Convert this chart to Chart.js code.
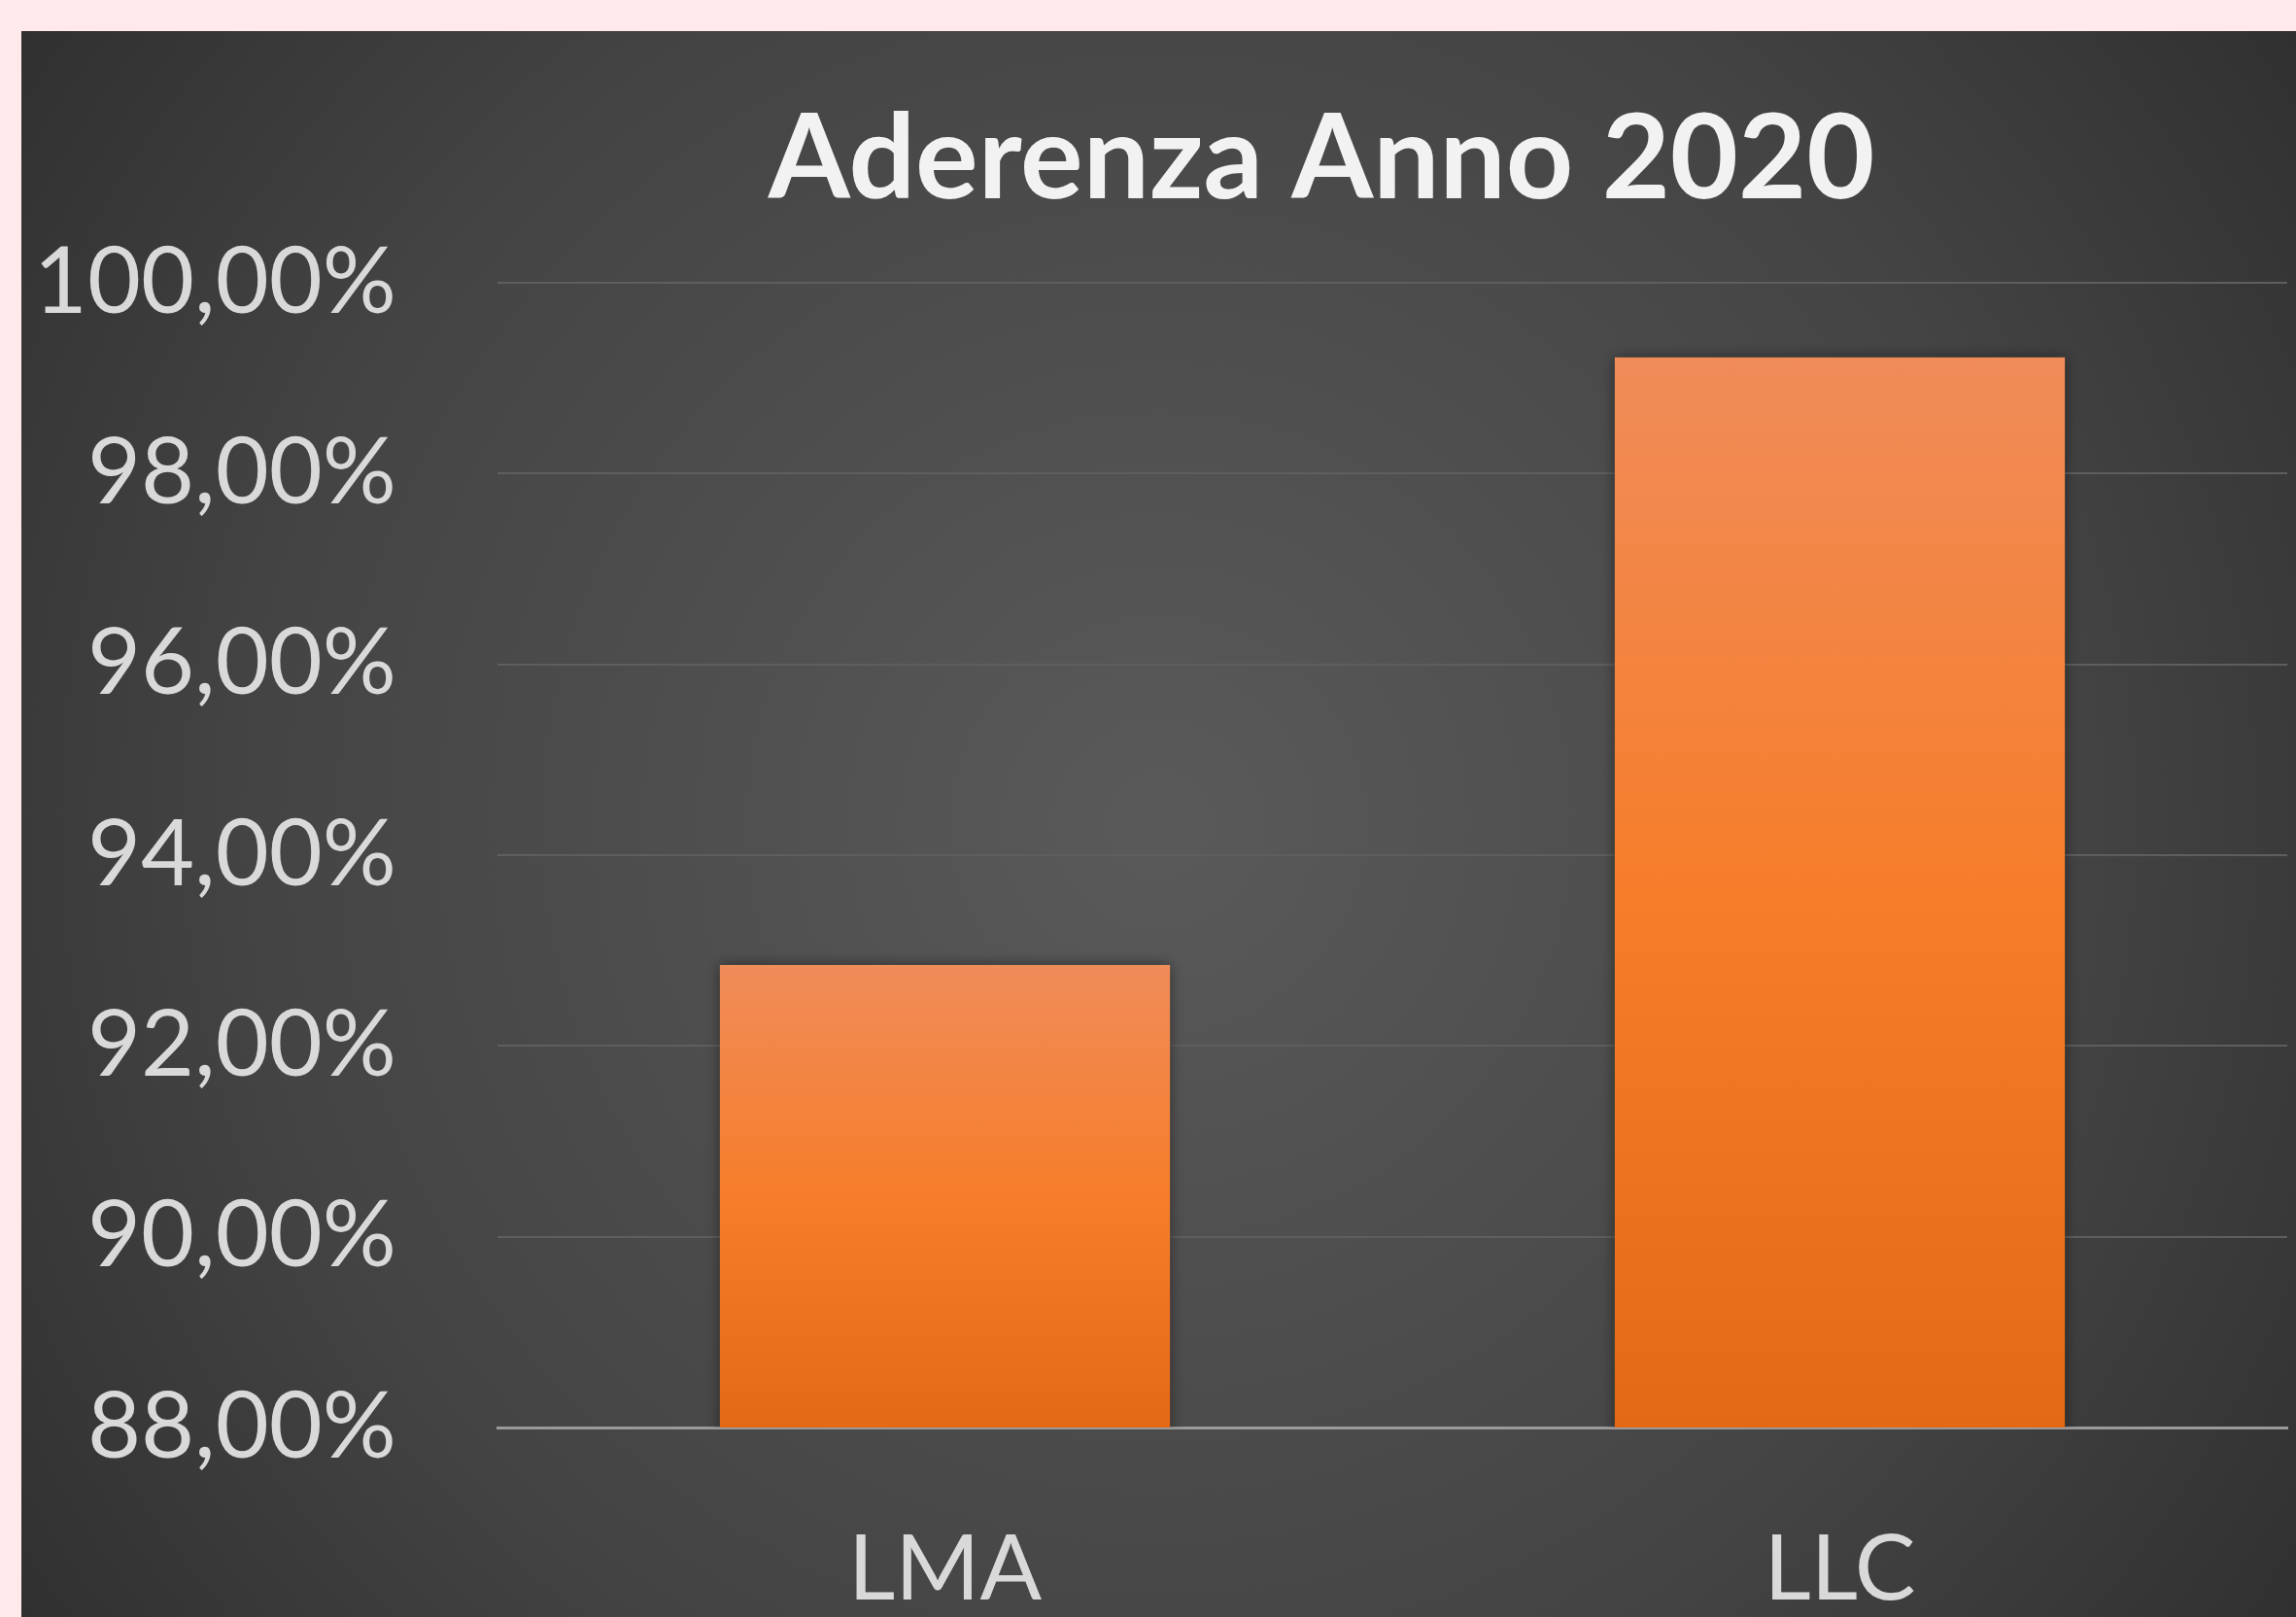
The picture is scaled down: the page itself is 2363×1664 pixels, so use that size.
<!DOCTYPE html>
<html>
<head>
<meta charset="utf-8">
<script src="https://cdn.jsdelivr.net/npm/chart.js@4.4.0/dist/chart.umd.min.js"></script>
<style>
  html, body { margin: 0; padding: 0; background: #ffe9ea; }
  body { width: 2363px; height: 1664px; overflow: hidden; position: relative; }
  #wrap { position: absolute; left: 22px; top: 32px; width: 2341px; height: 1632px; }
</style>
</head>
<body>
<div id="wrap"><canvas id="myChart" width="2341" height="1632"></canvas></div>
<script>
const categories = ['LMA', 'LLC'];
const aderenza = [92.85, 99.22];
const yMin = 88;
const yMax = 100;
const yStep = 2;

const ctx = document.getElementById('myChart').getContext('2d');

// dark radial background like the office chart style
const backgroundPlugin = {
    id: 'darkBackground',
    beforeDraw(chart) {
        const c = chart.ctx;
        const w = chart.width, h = chart.height;
        const g = c.createRadialGradient(w * 0.5, h * 0.5, 0, w * 0.5, h * 0.5, w * 0.72);
        g.addColorStop(0, '#5a5a5a');
        g.addColorStop(0.55, '#444444');
        g.addColorStop(1, '#262626');
        c.save();
        c.fillStyle = g;
        c.fillRect(0, 0, w, h);
        c.restore();
    }
};

// soft shadow behind the bars
const shadowPlugin = {
    id: 'barShadow',
    beforeDatasetDraw(chart) {
        chart.ctx.save();
        chart.ctx.shadowColor = 'rgba(0,0,0,0.45)';
        chart.ctx.shadowBlur = 14;
    },
    afterDatasetDraw(chart) {
        chart.ctx.restore();
    }
};

// the title in the original sits a bit right of the canvas centre
const titleShift = {
    id: 'titleShift',
    afterLayout(chart) {
        const t = chart.titleBlock;
        if (t) {
            t.left += 172;
            t.right += 172;
        }
    }
};

function barGradient(context) {
    const chart = context.chart;
    if (!chart.chartArea) return '#f57c2a';
    const y = chart.scales.y;
    const top = y.getPixelForValue(context.raw);
    const bottom = y.getPixelForValue(yMin);
    const g = chart.ctx.createLinearGradient(0, top, 0, bottom);
    g.addColorStop(0, '#f08c59');
    g.addColorStop(0.5, '#f67d2a');
    g.addColorStop(1, '#e36915');
    return g;
}

const myChart = new Chart(ctx, { // eslint-disable-line
    type: 'bar',
    data: {
        labels: categories,
        datasets: [{
            label: 'Aderenza',
            data: aderenza,
            backgroundColor: barGradient,
            borderWidth: 0,
            barPercentage: 0.503,
            categoryPercentage: 1
        }]
    },
    plugins: [backgroundPlugin, shadowPlugin, titleShift],
    options: {
        responsive: false,
        animation: false,
        layout: { padding: { left: 0, right: 9, top: 0, bottom: 0 } },
        plugins: {
            legend: { display: false },
            tooltip: { enabled: false },
            title: {
                display: true,
                text: 'Aderenza Anno 2020',
                color: '#f2f2f2',
                font: { family: 'Lato', size: 121, weight: 'bold', lineHeight: 1.2 },
                padding: { top: 60, bottom: 54 }
            }
        },
        scales: {
            x: {
                grid: { display: false },
                border: { display: true, color: '#9a9a9a', width: 3 },
                ticks: {
                    color: '#d9d9d9',
                    font: { family: 'Lato', size: 94 },
                    padding: 82
                },
                afterFit(scale) { scale.height = 195; }
            },
            y: {
                min: yMin,
                max: yMax,
                ticks: {
                    stepSize: yStep,
                    color: '#d9d9d9',
                    font: { family: 'Lato', size: 95 },
                    padding: 104,
                    callback: (v) => v.toFixed(2).replace('.', ',') + '%'
                },
                grid: { color: '#5e5e5e', lineWidth: 2, drawTicks: false },
                border: { display: false },
                afterFit(scale) { scale.width = 490; }
            }
        }
    }
});
</script>
</body>
</html>
